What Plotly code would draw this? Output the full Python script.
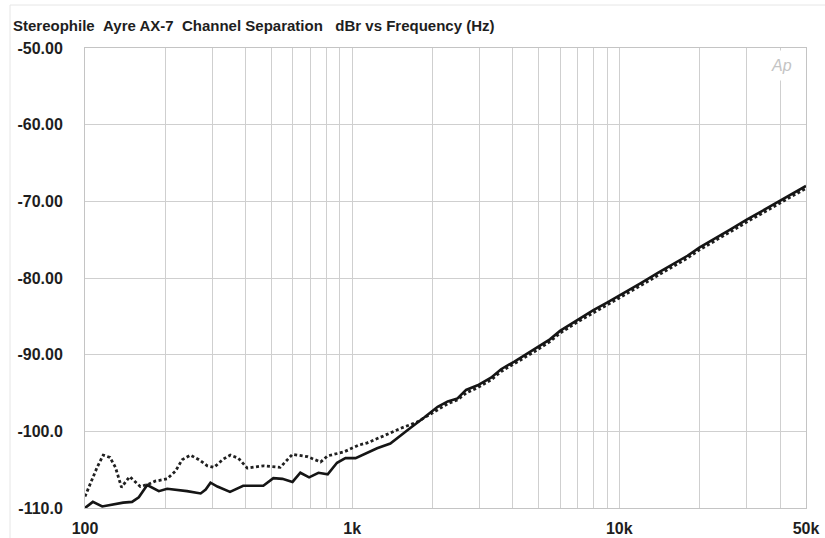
import plotly.graph_objects as go

# ---- data ----
solid_freq = [100, 107, 116, 128, 139, 150, 159, 171, 178, 189, 203, 221, 241, 271, 283, 295, 313,
              349, 391, 465, 507, 548, 598, 640, 690, 748, 810, 878, 944, 1030, 1140, 1240, 1390,
              1520, 1660, 1860, 2090, 2280, 2480, 2670, 2950, 3310, 3610, 4050, 4820, 5500, 6000,
              7000, 8000, 9000, 10000, 12000, 14000, 16000, 18000, 20000, 23000, 26000, 30000,
              35000, 40000, 45000, 50000]
solid_db = [-110.0, -109.2, -109.8, -109.5, -109.3, -109.2, -108.6, -107.0, -107.3, -107.8, -107.5,
            -107.6, -107.8, -108.1, -107.6, -106.7, -107.2, -107.9, -107.1, -107.1, -106.1, -106.2,
            -106.6, -105.4, -106.0, -105.4, -105.6, -104.1, -103.5, -103.5, -102.8, -102.2, -101.6,
            -100.6, -99.5, -98.2, -96.8, -96.1, -95.7, -94.6, -94.0, -93.0, -91.9, -90.9, -89.3,
            -88.0, -86.9, -85.4, -84.2, -83.2, -82.3, -80.7, -79.3, -78.1, -77.1, -76.0, -74.8,
            -73.7, -72.4, -71.1, -69.9, -68.9, -68.0]

dotted_freq = [100, 104, 111, 117, 124, 130, 137, 147, 154, 161, 173, 183, 203, 218, 231, 248, 267,
               287, 304, 330, 350, 375, 405, 465, 538, 598, 680, 762, 809, 929, 1058, 1140, 1310,
               1520, 1750, 2000, 2280, 2480, 2670, 2950, 3310, 3610, 4050, 4820, 5500, 6000, 7000,
               8000, 9000, 10000, 12000, 14000, 16000, 18000, 20000, 23000, 26000, 30000, 35000,
               40000, 45000, 50000]
dotted_db = [-108.5, -107.1, -104.7, -103.1, -103.4, -104.7, -107.3, -105.9, -106.5, -107.2, -106.9,
             -106.5, -106.2, -105.2, -103.7, -103.1, -103.7, -104.5, -104.7, -103.6, -103.1, -103.5,
             -104.8, -104.5, -104.7, -103.0, -103.3, -104.0, -103.2, -102.7, -101.8, -101.5, -100.6,
             -99.6, -98.8, -97.6, -96.4, -95.9, -95.0, -94.3, -93.3, -92.2, -91.2, -89.6, -88.3,
             -87.2, -85.7, -84.5, -83.5, -82.6, -81.0, -79.6, -78.4, -77.4, -76.3, -75.1, -74.0,
             -72.7, -71.4, -70.2, -69.2, -68.3]

x_grid_vals = [100, 200, 300, 400, 500, 600, 700, 800, 900,
               1000, 2000, 3000, 4000, 5000, 6000, 7000, 8000, 9000,
               10000, 20000, 30000, 40000, 50000]
x_labeled = {100: "100", 1000: "1k", 10000: "10k", 50000: "50k"}
x_tick_text = [x_labeled.get(v, "") for v in x_grid_vals]

y_tick_vals = [-110, -100, -90, -80, -70, -60, -50]
y_tick_text = ["-110.0", "-100.0", "-90.00", "-80.00", "-70.00", "-60.00", "-50.00"]

title_text = "Stereophile\u00a0\u00a0Ayre AX-7\u00a0\u00a0Channel Separation\u00a0\u00a0\u00a0dBr vs Frequency (Hz)"

FONT = "Liberation Sans, Arial, Helvetica, sans-serif"
TXT = "#1e1e1e"
GRID = "#cfcfcf"

fig = go.Figure()
fig.add_trace(go.Scatter(x=dotted_freq, y=dotted_db, mode="lines",
                         line=dict(color="#202020", width=2.8, dash="3px,2.5px"),
                         hoverinfo="skip", showlegend=False))
fig.add_trace(go.Scatter(x=solid_freq, y=solid_db, mode="lines",
                         line=dict(color="#151515", width=2.6),
                         hoverinfo="skip", showlegend=False))

W, H = 825, 538
L, R, T, B = 85, 806, 48, 508

def px_x(x):
    return (x - L) / (R - L)

def px_y(y):
    return (B - y) / (B - T)

fig.update_layout(
    width=W, height=H,
    margin=dict(l=L, r=W - R, t=T, b=H - B, autoexpand=False),
    paper_bgcolor="white", plot_bgcolor="white",
    showlegend=False,
    title=dict(text=title_text, x=13 / W, xanchor="left", xref="container",
               y=1 - 26 / H, yanchor="middle", yref="container",
               font=dict(family=FONT, size=15, color=TXT, weight="bold")),
    xaxis=dict(type="log", range=[2, 4.69897], tickvals=x_grid_vals, ticktext=x_tick_text,
               showgrid=True, gridcolor=GRID, gridwidth=1, zeroline=False,
               showline=True, linecolor="#c4c4c4", linewidth=1, mirror=True,
               ticks="", ticklabelstandoff=6, automargin=False,
               tickfont=dict(family=FONT, size=16, color=TXT, weight="bold")),
    yaxis=dict(range=[-110, -50], tickvals=y_tick_vals, ticktext=y_tick_text,
               showgrid=True, gridcolor=GRID, gridwidth=1, zeroline=False,
               showline=True, linecolor="#c4c4c4", linewidth=1, mirror=True,
               ticks="", ticklabelstandoff=18, automargin=False,
               tickfont=dict(family=FONT, size=16, color=TXT, weight="bold")),
    shapes=[
        dict(type="line", xref="paper", yref="paper", x0=px_x(10), x1=px_x(10),
             y0=px_y(5), y1=px_y(538), line=dict(color="#e6e6e6", width=1)),
        dict(type="line", xref="paper", yref="paper", x0=px_x(10), x1=px_x(825),
             y0=px_y(5), y1=px_y(5), line=dict(color="#e6e6e6", width=1)),
    ],
    annotations=[
        dict(text="<i>Ap</i>", xref="paper", yref="paper", x=px_x(781), y=px_y(65),
             xanchor="center", yanchor="middle", showarrow=False,
             bgcolor="white", borderpad=6,
             font=dict(family=FONT, size=16, color="#c4c4c4")),
    ],
)

fig.write_html("out.html", config={"displayModeBar": False})
